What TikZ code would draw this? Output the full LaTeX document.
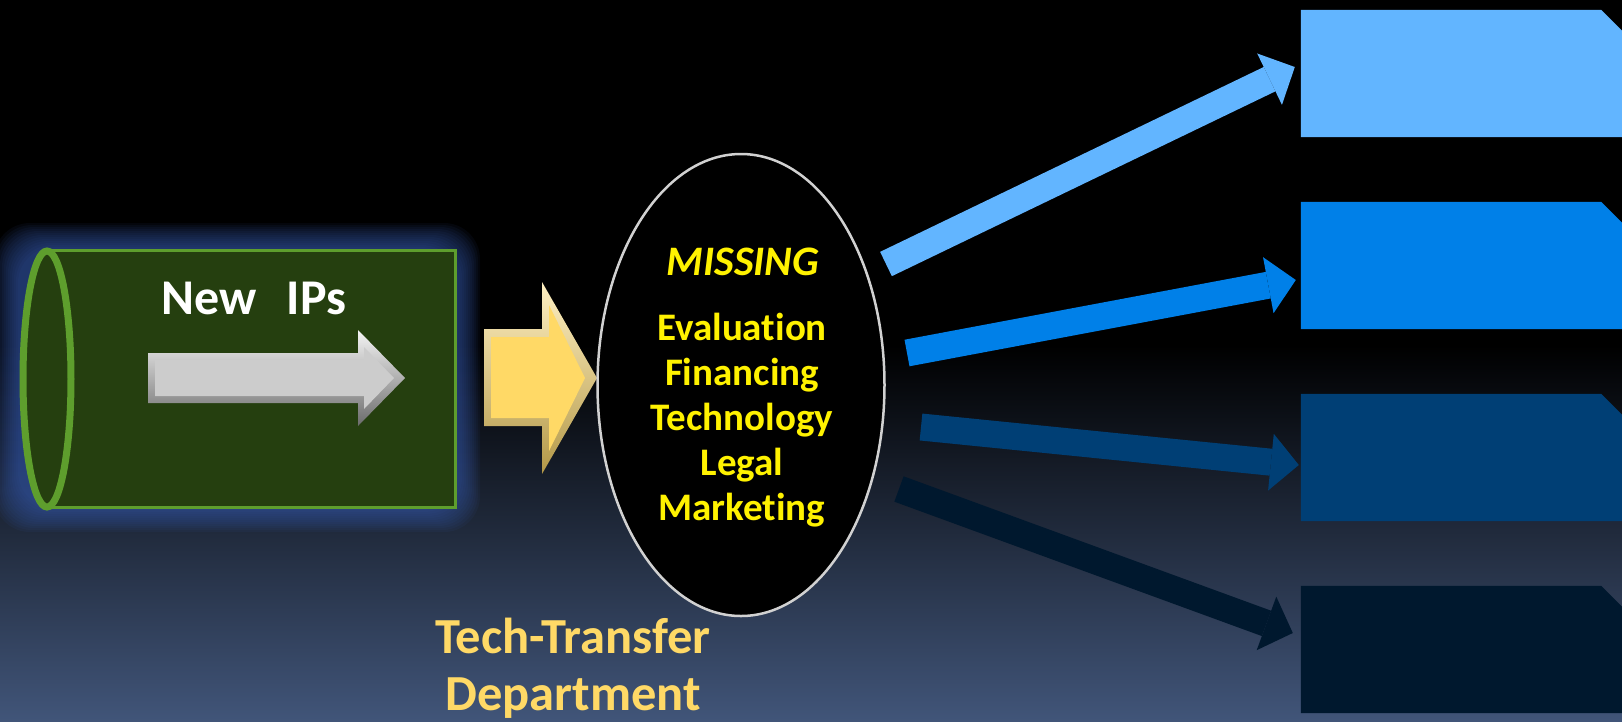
\documentclass[tikz,border=0pt]{standalone}
\usepackage{fontspec}
\setmainfont[RawFeature={-liga}]{Carlito}
\usetikzlibrary{arrows.meta,shapes.geometric}
\definecolor{ipgreen}{HTML}{253F0F}
\definecolor{ipedge}{HTML}{5E9E2D}
\definecolor{glow}{HTML}{3A5EB4}
\definecolor{bgblue}{HTML}{415579}
\definecolor{gold}{HTML}{FFD966}
\definecolor{outA}{HTML}{62B5FF}
\definecolor{outB}{HTML}{0080E8}
\definecolor{outC}{HTML}{003F75}
\definecolor{outD}{HTML}{00182E}

\begin{document}
\begin{tikzpicture}[
	x=1pt,y=-1pt,
	inner sep=0pt,
	title/.style={anchor=base,text=white,font=\fontsize{50}{60}\selectfont\bfseries},
	missing/.style={anchor=base,text=yellow,font=\fontsize{42}{50}\selectfont\bfseries\itshape},
	task/.style={anchor=base,text=yellow,font=\fontsize{39}{47}\selectfont\bfseries},
	dept/.style={anchor=base,text=gold,font=\fontsize{50.5}{58}\selectfont\bfseries},
	outbox/.style={minimum width=321pt,minimum height=127pt},
	flow/.style={line width=27pt,-{Triangle[length=28pt,width=57pt,line width=0pt]}},
	]
\useasboundingbox (0,0) rectangle (1622,721);
% backdrop
\fill[black] (0,0) rectangle (1622,721);
\shade[top color=black,bottom color=bgblue] (0,345) rectangle (1622,721);

% the pipe with new IPs
\foreach \r in {26,24,...,2}
	\fill[glow,opacity=0.07,rounded corners=36pt] (20-\r,249-\r) rectangle (454+\r,506+\r);
\node[draw=ipedge,line width=3pt,fill=ipgreen,minimum width=407pt,minimum height=257pt,anchor=north west] (body) at (47,249) {};
\node[ellipse,draw=ipedge,line width=7pt,fill=ipgreen,minimum width=48pt,minimum height=256pt] (mouth) at (body.west) {};
\shade[top color=white!96!black,bottom color=black!58] (148,353) -- (358,353) -- (358,330) -- (405,378) -- (358,426) -- (358,403) -- (148,403) -- cycle;
\fill[black!20] (155,360) -- (364,360) -- (364,347) -- (394,378) -- (364,409) -- (364,396) -- (155,396) -- cycle;
\node[title] (newips) at (254,314) {New\hspace{0.6em}IPs};

% into the department
\shade[top color=gold!40!white,bottom color=gold!70!black] (484,329) -- (542,329) -- (542,282) -- (597,378) -- (542,474) -- (542,426) -- (484,426) -- cycle;
\fill[gold] (491,337) -- (549,337) -- (549,305) -- (585,378) -- (549,451) -- (549,418) -- (491,418) -- cycle;

\node[ellipse,draw=white!82!black,line width=2.5pt,fill=black,minimum width=287pt,minimum height=462pt] (core) at (741,385) {};
\node[missing] (miss) at (743,275) {MISSING};
\foreach \t [count=\i] in {Evaluation,Financing,Technology,Legal,Marketing}
	\node[task] (task\i) at (742,340+45*\i-45) {\t};
\node[dept] (dept) at (573,653) {Tech-Transfer};
\node[dept] (dept2) at (573,710) {Department};

% outcomes
\foreach \c [count=\i] in {outA,outB,outC,outD} {
	\node[outbox] (out\i) at (1461.5,73.5+192*\i-192) {};
	\fill[\c] (out\i.north west) -- ([shift={(-21,0)}]out\i.north east) -- ([shift={(0,21)}]out\i.north east)
		-- (out\i.south east) -- (out\i.south west) -- cycle;
}
\coordinate (t1) at (886,264);
\coordinate (t2) at (907,353);
\coordinate (t3) at (921,427);
\coordinate (t4) at (899,489);
\draw[flow,outA] (t1) -- ([shift={(-6,-6.5)}]out1.west);
\draw[flow,outB] (t2) -- ([shift={(-5,14.5)}]out2.west);
\draw[flow,outC] (t3) -- ([shift={(-2,7.5)}]out3.west);
\draw[flow,outD] (t4) -- ([shift={(-8,-16.5)}]out4.west);
\end{tikzpicture}
\end{document}
